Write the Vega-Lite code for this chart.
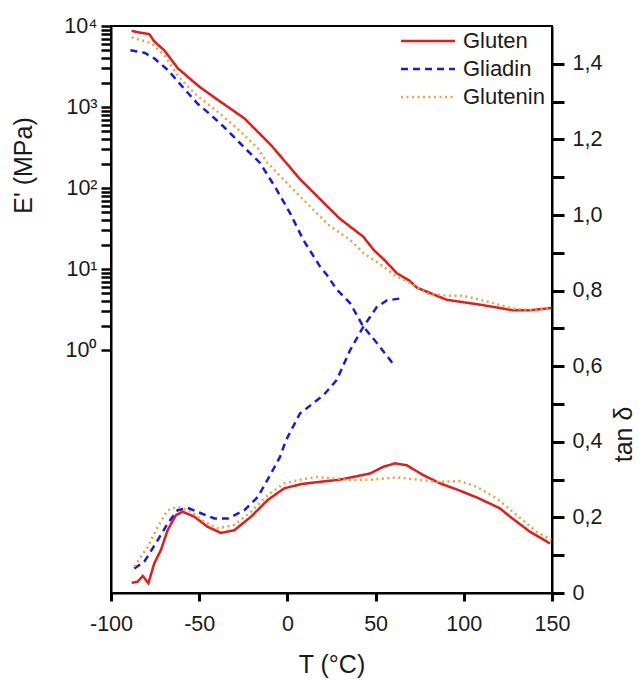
{
  "$schema": "https://vega.github.io/schema/vega-lite/v6.json",
  "width": 441,
  "height": 567,
  "autosize": {"type": "none"},
  "padding": {"left": 111, "top": 26, "right": 87, "bottom": 88},
  "background": "white",
  "config": {
    "font": "Liberation Sans",
    "view": {"stroke": "black", "strokeWidth": 2},
    "axis": {"domainColor": "black", "domainWidth": 2, "labelColor": "#1a1a1a", "titleColor": "#1a1a1a", "labelFontSize": 21.5, "titleFontSize": 25, "titleFontWeight": "normal", "grid": false, "labelOverlap": false, "labelFlush": false},
    "legend": {"labelFontSize": 22, "labelColor": "#1a1a1a", "symbolStrokeWidth": 2.5}
  },
  "data": {"values": [
    {"s":"Gluten","m":"E","T":-88.3,"v":8710},{"s":"Gluten","m":"E","T":-84,"v":8318},{"s":"Gluten","m":"E","T":-78.3,"v":7943},{"s":"Gluten","m":"E","T":-75.5,"v":6457},{"s":"Gluten","m":"E","T":-69.8,"v":5012},{"s":"Gluten","m":"E","T":-62.2,"v":3020},{"s":"Gluten","m":"E","T":-49.9,"v":1778},{"s":"Gluten","m":"E","T":-37.6,"v":1148},{"s":"Gluten","m":"E","T":-24.4,"v":724},{"s":"Gluten","m":"E","T":-9.3,"v":339},{"s":"Gluten","m":"E","T":7.1,"v":129},{"s":"Gluten","m":"E","T":22.3,"v":60.3},{"s":"Gluten","m":"E","T":29.8,"v":41.7},{"s":"Gluten","m":"E","T":43.0,"v":25.1},{"s":"Gluten","m":"E","T":48.7,"v":17.4},{"s":"Gluten","m":"E","T":55,"v":12.9},{"s":"Gluten","m":"E","T":62.0,"v":8.9},{"s":"Gluten","m":"E","T":69.5,"v":7.1},{"s":"Gluten","m":"E","T":73.3,"v":5.9},{"s":"Gluten","m":"E","T":90.3,"v":4.17},{"s":"Gluten","m":"E","T":109.2,"v":3.63},{"s":"Gluten","m":"E","T":128.1,"v":3.09},{"s":"Gluten","m":"E","T":137.5,"v":3.09},{"s":"Gluten","m":"E","T":149.8,"v":3.31},
    {"s":"Glutenin","m":"E","T":-88.3,"v":7244},{"s":"Glutenin","m":"E","T":-77.3,"v":6166},{"s":"Glutenin","m":"E","T":-69.8,"v":4365},{"s":"Glutenin","m":"E","T":-62.2,"v":2455},{"s":"Glutenin","m":"E","T":-52.8,"v":1479},{"s":"Glutenin","m":"E","T":-39.5,"v":871},{"s":"Glutenin","m":"E","T":-28.2,"v":537},{"s":"Glutenin","m":"E","T":-16.8,"v":309},{"s":"Glutenin","m":"E","T":-11.7,"v":209},{"s":"Glutenin","m":"E","T":1.5,"v":105},{"s":"Glutenin","m":"E","T":16.6,"v":49},{"s":"Glutenin","m":"E","T":24.1,"v":33.9},{"s":"Glutenin","m":"E","T":35.5,"v":22.9},{"s":"Glutenin","m":"E","T":43.0,"v":15.8},{"s":"Glutenin","m":"E","T":52.5,"v":11.5},{"s":"Glutenin","m":"E","T":62.0,"v":8.1},{"s":"Glutenin","m":"E","T":67.6,"v":7.1},{"s":"Glutenin","m":"E","T":79.0,"v":5.0},{"s":"Glutenin","m":"E","T":90,"v":4.68},{"s":"Glutenin","m":"E","T":99.7,"v":4.68},{"s":"Glutenin","m":"E","T":113.0,"v":3.98},{"s":"Glutenin","m":"E","T":128.1,"v":3.24},{"s":"Glutenin","m":"E","T":141.3,"v":3.09},{"s":"Glutenin","m":"E","T":149.8,"v":3.39},
    {"s":"Gliadin","m":"E","T":-89.0,"v":5012},{"s":"Gliadin","m":"E","T":-81.1,"v":4677},{"s":"Gliadin","m":"E","T":-75.5,"v":3981},{"s":"Gliadin","m":"E","T":-67.9,"v":2884},{"s":"Gliadin","m":"E","T":-60.3,"v":1862},{"s":"Gliadin","m":"E","T":-50.9,"v":1096},{"s":"Gliadin","m":"E","T":-43.3,"v":794},{"s":"Gliadin","m":"E","T":-35.8,"v":562},{"s":"Gliadin","m":"E","T":-24.0,"v":309},{"s":"Gliadin","m":"E","T":-15.5,"v":204},{"s":"Gliadin","m":"E","T":-6.1,"v":95.5},{"s":"Gliadin","m":"E","T":1.5,"v":49},{"s":"Gliadin","m":"E","T":9.0,"v":22.9},{"s":"Gliadin","m":"E","T":18.5,"v":10.7},{"s":"Gliadin","m":"E","T":22.3,"v":8.5},{"s":"Gliadin","m":"E","T":27.9,"v":5.6},{"s":"Gliadin","m":"E","T":35.5,"v":3.8},{"s":"Gliadin","m":"E","T":43.0,"v":1.95},{"s":"Gliadin","m":"E","T":50.6,"v":1.23},{"s":"Gliadin","m":"E","T":61.0,"v":0.63},
    {"s":"Gliadin","m":"tan","T":-86.8,"v":0.065},{"s":"Gliadin","m":"tan","T":-81.1,"v":0.083},{"s":"Gliadin","m":"tan","T":-73.5,"v":0.140},{"s":"Gliadin","m":"tan","T":-67.9,"v":0.184},{"s":"Gliadin","m":"tan","T":-62.2,"v":0.219},{"s":"Gliadin","m":"tan","T":-56.5,"v":0.225},{"s":"Gliadin","m":"tan","T":-49.0,"v":0.211},{"s":"Gliadin","m":"tan","T":-41.4,"v":0.197},{"s":"Gliadin","m":"tan","T":-33.8,"v":0.197},{"s":"Gliadin","m":"tan","T":-24.4,"v":0.219},{"s":"Gliadin","m":"tan","T":-16.8,"v":0.254},{"s":"Gliadin","m":"tan","T":-9.3,"v":0.316},{"s":"Gliadin","m":"tan","T":-4.2,"v":0.360},{"s":"Gliadin","m":"tan","T":-0.8,"v":0.404},{"s":"Gliadin","m":"tan","T":7.1,"v":0.475},{"s":"Gliadin","m":"tan","T":20.4,"v":0.523},{"s":"Gliadin","m":"tan","T":27.9,"v":0.563},{"s":"Gliadin","m":"tan","T":35.5,"v":0.642},{"s":"Gliadin","m":"tan","T":43.0,"v":0.704},{"s":"Gliadin","m":"tan","T":50.6,"v":0.756},{"s":"Gliadin","m":"tan","T":56.3,"v":0.774},{"s":"Gliadin","m":"tan","T":63.8,"v":0.779},
    {"s":"Gluten","m":"tan","T":-88.3,"v":0.027},{"s":"Gluten","m":"tan","T":-84.9,"v":0.030},{"s":"Gluten","m":"tan","T":-82.0,"v":0.045},{"s":"Gluten","m":"tan","T":-78.8,"v":0.026},{"s":"Gluten","m":"tan","T":-75.5,"v":0.078},{"s":"Gluten","m":"tan","T":-71.7,"v":0.114},{"s":"Gluten","m":"tan","T":-67.9,"v":0.166},{"s":"Gluten","m":"tan","T":-63.2,"v":0.206},{"s":"Gluten","m":"tan","T":-59.4,"v":0.215},{"s":"Gluten","m":"tan","T":-52.8,"v":0.202},{"s":"Gluten","m":"tan","T":-45.2,"v":0.175},{"s":"Gluten","m":"tan","T":-37.6,"v":0.159},{"s":"Gluten","m":"tan","T":-30.1,"v":0.166},{"s":"Gluten","m":"tan","T":-20.6,"v":0.202},{"s":"Gluten","m":"tan","T":-11.2,"v":0.246},{"s":"Gluten","m":"tan","T":-1.8,"v":0.277},{"s":"Gluten","m":"tan","T":7.7,"v":0.288},{"s":"Gluten","m":"tan","T":12.8,"v":0.291},{"s":"Gluten","m":"tan","T":29.8,"v":0.300},{"s":"Gluten","m":"tan","T":46.8,"v":0.316},{"s":"Gluten","m":"tan","T":54.4,"v":0.334},{"s":"Gluten","m":"tan","T":61.0,"v":0.343},{"s":"Gluten","m":"tan","T":67.6,"v":0.338},{"s":"Gluten","m":"tan","T":77.0,"v":0.312},{"s":"Gluten","m":"tan","T":86.5,"v":0.290},{"s":"Gluten","m":"tan","T":96.0,"v":0.274},{"s":"Gluten","m":"tan","T":107.3,"v":0.253},{"s":"Gluten","m":"tan","T":120.5,"v":0.224},{"s":"Gluten","m":"tan","T":126.2,"v":0.202},{"s":"Gluten","m":"tan","T":137.5,"v":0.162},{"s":"Gluten","m":"tan","T":148.9,"v":0.131},
    {"s":"Glutenin","m":"tan","T":-86.8,"v":0.070},{"s":"Glutenin","m":"tan","T":-79.2,"v":0.122},{"s":"Glutenin","m":"tan","T":-73.5,"v":0.175},{"s":"Glutenin","m":"tan","T":-67.9,"v":0.219},{"s":"Glutenin","m":"tan","T":-62.2,"v":0.228},{"s":"Glutenin","m":"tan","T":-54.6,"v":0.215},{"s":"Glutenin","m":"tan","T":-47.1,"v":0.188},{"s":"Glutenin","m":"tan","T":-39.5,"v":0.171},{"s":"Glutenin","m":"tan","T":-30.1,"v":0.180},{"s":"Glutenin","m":"tan","T":-20.6,"v":0.215},{"s":"Glutenin","m":"tan","T":-11.2,"v":0.259},{"s":"Glutenin","m":"tan","T":-1.8,"v":0.290},{"s":"Glutenin","m":"tan","T":7.7,"v":0.300},{"s":"Glutenin","m":"tan","T":16.6,"v":0.307},{"s":"Glutenin","m":"tan","T":35.5,"v":0.299},{"s":"Glutenin","m":"tan","T":48.7,"v":0.300},{"s":"Glutenin","m":"tan","T":62.0,"v":0.306},{"s":"Glutenin","m":"tan","T":73.3,"v":0.300},{"s":"Glutenin","m":"tan","T":84.6,"v":0.294},{"s":"Glutenin","m":"tan","T":97.8,"v":0.296},{"s":"Glutenin","m":"tan","T":107.3,"v":0.281},{"s":"Glutenin","m":"tan","T":118.7,"v":0.250},{"s":"Glutenin","m":"tan","T":130.0,"v":0.206},{"s":"Glutenin","m":"tan","T":141.3,"v":0.162},{"s":"Glutenin","m":"tan","T":149.8,"v":0.140}
  ]},
  "encoding": {
    "x": {"field": "T", "type": "quantitative", "scale": {"domain": [-100, 150], "nice": false, "zero": false},
      "axis": {"title": "T (°C)", "values": [-100, -50, 0, 50, 100, 150], "labelExpr": "replace(datum.label, '−', '-')", "ticks": true, "tickColor": "black", "tickWidth": 3, "tickOpacity": 1, "tickSize": 8, "labelPadding": 12, "titlePadding": 18, "zindex": 1}},
    "color": {"field": "s", "type": "nominal", "scale": {"domain": ["Gluten", "Gliadin", "Glutenin"], "range": ["#e31b1b", "#1a1ad8", "#f0a040"]},
      "legend": {"title": null, "orient": "none", "legendX": 306, "legendY": 4, "symbolType": "M-3,0H3", "symbolSize": 324, "labelOffset": 24, "rowPadding": 6}},
    "strokeDash": {"field": "s", "type": "nominal", "scale": {"domain": ["Gluten", "Gliadin", "Glutenin"], "range": [[1, 0], [7, 5], [2, 3.5]]}, "legend": null}
  },
  "layer": [
    {
      "transform": [{"filter": "datum.m == 'E'"}],
      "mark": {"type": "line", "strokeWidth": 2.5},
      "encoding": {
        "y": {"field": "v", "type": "quantitative", "scale": {"type": "log", "domain": [0.001, 10000], "nice": false},
          "axis": {"orient": "left", "title": "E' (MPa)", "zindex": 1,
            "values": [1,2,3,4,5,6,7,8,9,10,20,30,40,50,60,70,80,90,100,200,300,400,500,600,700,800,900,1000,2000,3000,4000,5000,6000,7000,8000,9000,10000],
            "labelExpr": "abs(log(datum.value)/LN10 - round(log(datum.value)/LN10)) < 0.001 ? '10' + ['⁰','¹','²','³','⁴'][round(log(datum.value)/LN10)] : ''",
            "ticks": true, "tickColor": "black", "tickWidth": 2.5, "tickOpacity": 1, "tickSize": 10,
            "encode": {"ticks": {"update": {"x2": {"signal": "abs(log(datum.value)/LN10 - round(log(datum.value)/LN10)) < 0.001 ? -10 : -5"}}}},
            "labelPadding": 4, "titlePadding": 27, "titleY": 139}}
      }
    },
    {
      "transform": [{"filter": "datum.m == 'tan'"}],
      "mark": {"type": "line", "strokeWidth": 2.5},
      "encoding": {
        "y": {"field": "v", "type": "quantitative", "scale": {"domain": [0, 1.5], "nice": false},
          "axis": {"orient": "right", "title": "tan δ", "titleAngle": 270, "titleBaseline": "top", "zindex": 1,
            "values": [0,0.1,0.2,0.3,0.4,0.5,0.6,0.7,0.8,0.9,1.0,1.1,1.2,1.3,1.4],
            "labelExpr": "datum.value == 0 ? '0' : (round(datum.value*10) % 2 == 0 ? replace(format(datum.value, '.1f'), '.', ',') : '')",
            "ticks": true, "tickColor": "black", "tickWidth": 3, "tickOpacity": 1, "tickSize": 12,
            "labelPadding": 8, "titlePadding": 10, "titleY": 408}}
      }
    }
  ],
  "resolve": {"scale": {"y": "independent"}}
}
